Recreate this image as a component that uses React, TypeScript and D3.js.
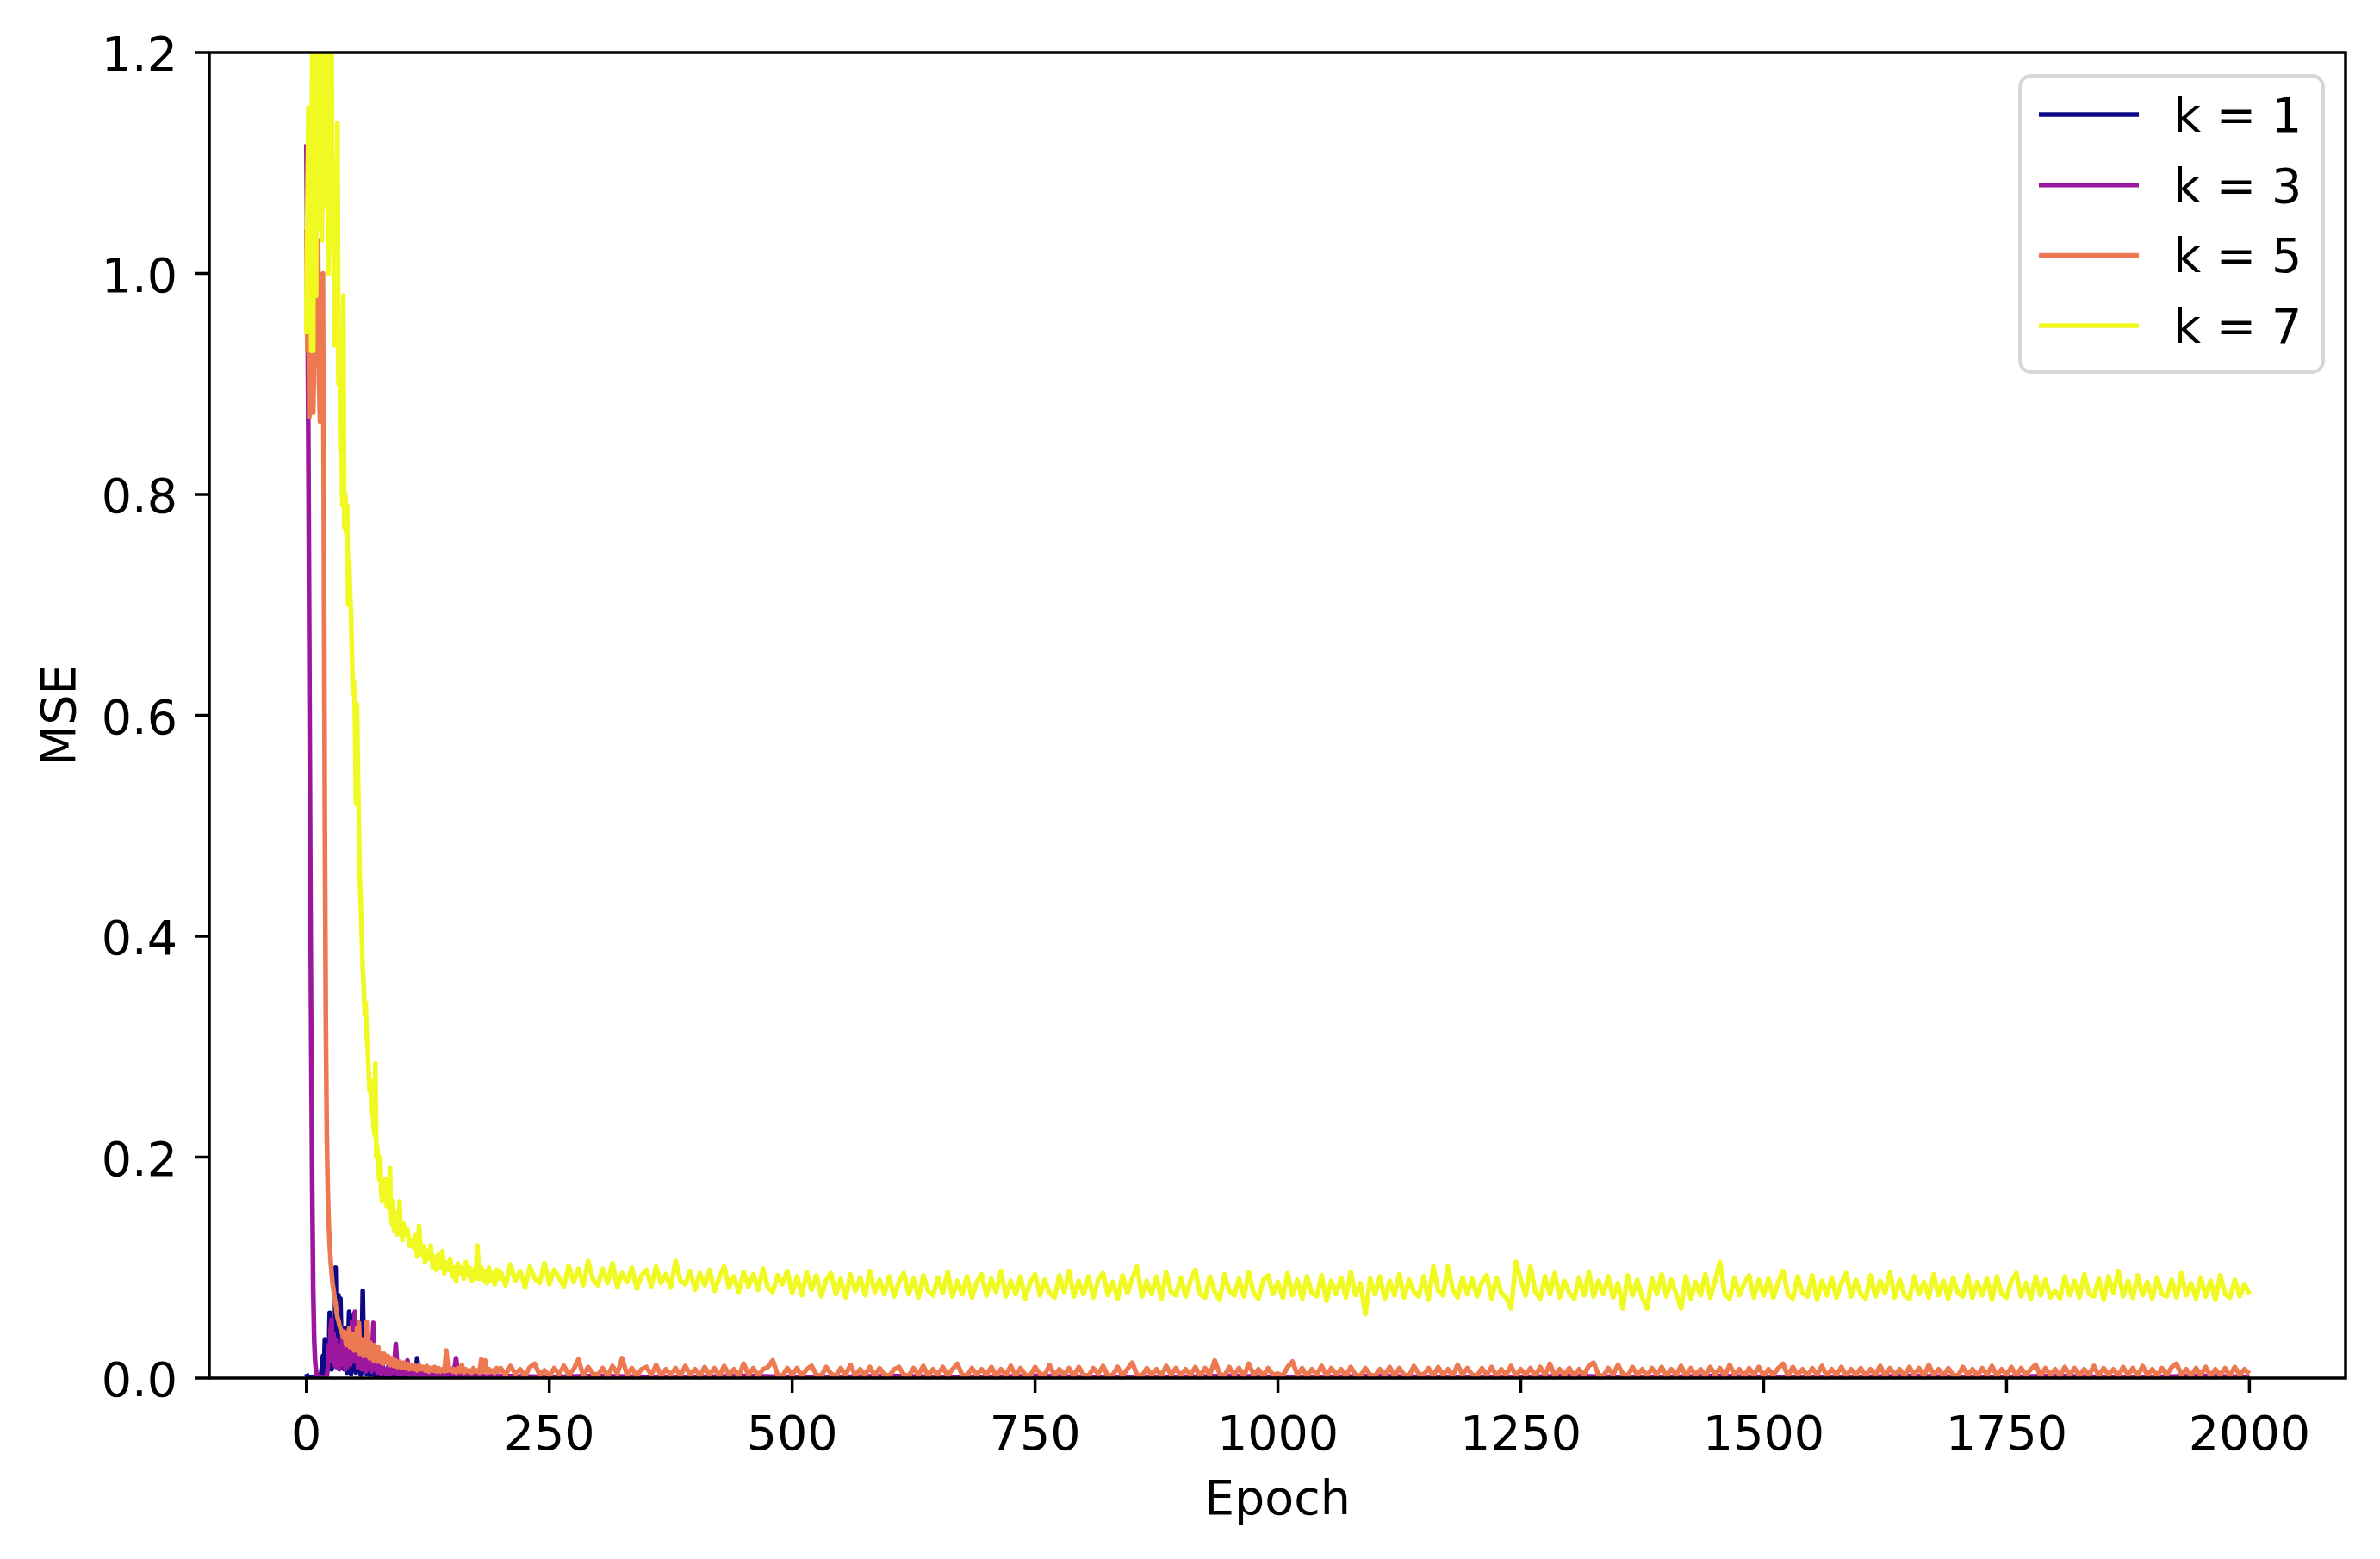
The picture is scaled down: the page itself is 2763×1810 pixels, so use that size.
import React from 'react';
import * as d3 from 'd3';

// every value below is MSE x 1000
// k = 1 : epochs 0-79 every epoch, 80-198 every 2nd, 200-2000 every 100th
const K1_HEAD = [
	4, 2, 1, 1, 1, 1, 1, 1, 1, 1,
	1, 1, 1, 1, 1, 3, 10, 20, 5, 35,
	12, 4, 30, 10, 59, 20, 8, 30, 50, 15,
	100, 40, 20, 75, 25, 72, 30, 10, 30, 8,
	45, 20, 5, 25, 60, 15, 4, 30, 10, 58,
	15, 5, 20, 8, 35, 10, 3, 20, 79, 20,
	6, 15, 4, 30, 8, 3, 12, 4, 20, 5,
	2, 10, 3, 6, 2, 8, 2, 4, 15, 3,
];
const K1_MID = [
	2, 5, 2, 6, 1, 10, 2, 3, 1, 4,
	1, 2, 1, 4, 1, 2, 1, 18, 1, 2,
	1, 1, 2, 1, 1, 3, 1, 1, 1, 2,
	1, 1, 1, 2, 1, 1, 1, 1, 2, 1,
	1, 1, 1, 1, 1, 1, 2, 1, 1, 1,
	1, 1, 1, 1, 1, 1, 1, 1, 1, 1,
];
const K1_TAIL = [1, 0, 1, 0, 0, 1, 0, 0, 0, 1, 0, 0, 0, 0, 1, 0, 0, 0, 0];

// k = 3 : epochs 0-79, 80-198 every 2nd, 200-2000 every 50th
const K3_HEAD = [
	1117, 1000, 850, 660, 460, 300, 170, 80, 35, 15,
	6, 2, 1, 1, 1, 1, 1, 1, 1, 1,
	1, 2, 10, 30, 15, 45, 53, 20, 40, 12,
	35, 10, 30, 20, 8, 28, 12, 40, 15, 30,
	8, 35, 10, 25, 40, 12, 30, 51, 15, 40,
	60, 20, 35, 10, 50, 15, 30, 8, 25, 10,
	20, 6, 18, 8, 25, 10, 20, 6, 30, 50,
	15, 8, 20, 5, 15, 6, 12, 4, 10, 5,
];
const K3_MID = [
	8, 4, 10, 3, 8, 5, 31, 4, 10, 3,
	6, 4, 16, 3, 6, 2, 5, 2, 4, 2,
	5, 2, 3, 2, 4, 2, 3, 2, 4, 1,
	3, 2, 3, 1, 4, 2, 6, 18, 3, 2,
	3, 1, 2, 3, 1, 2, 1, 3, 1, 2,
	1, 2, 1, 2, 1, 2, 1, 1, 2, 1,
];
const K3_TAIL = [
	2, 1, 2, 1, 1, 2, 1, 1, 2, 1,
	1, 2, 1, 1, 1, 2, 1, 1, 2, 1,
	1, 1, 2, 1, 1, 2, 1, 1, 1, 2,
	1, 1, 2, 1, 1, 2, 1,
];

// k = 5 : epochs 0-79, 80-198 every 2nd, 200-2000 every 5th
const K5_HEAD = [
	1040, 930, 980, 870, 950, 1000, 900, 874, 920, 970,
	950, 1000, 1030, 900, 866, 950, 980, 1000, 750, 500,
	320, 220, 170, 140, 120, 105, 95, 85, 80, 72,
	68, 60, 55, 52, 48, 45, 43, 40, 37, 42,
	35, 30, 38, 32, 45, 28, 35, 30, 40, 25,
	35, 28, 45, 25, 50, 22, 30, 24, 35, 20,
	30, 22, 51, 20, 28, 18, 32, 20, 25, 16,
	30, 18, 24, 15, 28, 16, 22, 14, 20, 13,
];
const K5_MID = [
	22, 14, 20, 12, 18, 11, 16, 10, 15, 9,
	14, 9, 13, 8, 12, 8, 11, 7, 12, 8,
	10, 7, 11, 6, 9, 7, 10, 6, 9, 6,
	8, 6, 25, 7, 9, 6, 8, 5, 9, 6,
	12, 5, 8, 6, 7, 5, 9, 6, 7, 5,
	17, 6, 16, 5, 8, 6, 7, 5, 9, 6,
];
const K5_TAIL = [
	9, 3, 11, 4, 8, 2, 10, 13, 3, 7, 2, 9, 4, 11, 3, 8, 17, 2, 10, 4,
	3, 9, 2, 11, 4, 18, 3, 9, 2, 8, 10, 3, 12, 2, 8, 3, 9, 2, 11, 3,
	8, 2, 10, 3, 9, 2, 11, 3, 8, 2, 13, 3, 9, 2, 8, 10, 16, 3, 2, 9,
	3, 9, 2, 8, 11, 3, 2, 10, 4, 2, 9, 3, 12, 2, 8, 3, 10, 2, 9, 3,
	2, 8, 10, 3, 2, 9, 3, 11, 2, 8, 3, 10, 2, 8, 13, 3, 2, 9, 3, 8,
	3, 10, 2, 8, 3, 11, 2, 9, 3, 2, 10, 4, 3, 12, 2, 8, 3, 9, 2, 10,
	3, 2, 9, 4, 11, 2, 3, 10, 2, 8, 14, 3, 2, 9, 3, 8, 2, 11, 3, 9,
	2, 8, 3, 10, 2, 9, 3, 16, 4, 2, 10, 3, 9, 2, 13, 3, 8, 2, 9, 3,
	4, 2, 10, 15, 3, 9, 2, 8, 3, 11, 2, 9, 3, 8, 2, 10, 3, 2, 9, 3,
	2, 8, 3, 10, 2, 9, 3, 2, 11, 4, 3, 9, 2, 10, 3, 8, 2, 12, 3, 9,
	3, 2, 9, 3, 10, 2, 8, 3, 11, 2, 8, 3, 9, 2, 10, 3, 13, 2, 8, 3,
	9, 2, 8, 3, 11, 14, 3, 2, 9, 3, 12, 4, 2, 10, 3, 8, 2, 9, 3, 10,
	2, 8, 3, 11, 2, 9, 3, 8, 2, 10, 3, 9, 2, 12, 3, 8, 2, 9, 3, 10,
	2, 8, 3, 9, 13, 2, 10, 3, 8, 2, 9, 3, 11, 2, 8, 3, 10, 2, 8, 3,
	9, 2, 8, 3, 11, 2, 9, 3, 8, 2, 10, 3, 9, 2, 12, 3, 8, 2, 9, 3,
	2, 10, 3, 8, 2, 9, 3, 11, 2, 8, 3, 10, 2, 9, 3, 8, 12, 2, 9, 3,
	8, 2, 10, 3, 9, 2, 8, 3, 11, 2, 9, 3, 8, 2, 10, 3, 9, 2, 11, 3,
	8, 2, 9, 3, 10, 13, 3, 8, 2, 9, 3, 10, 2, 8, 3, 9, 2, 10, 3, 8,
	4,
];

// k = 7 : epochs 0-99, 100-198 every 2nd, 200-2000 every 5th
const K7_HEAD = [
	945, 1060, 1150, 1000, 1130, 930, 1220, 930, 1250, 1050,
	980, 1300, 1120, 1250, 1040, 1350, 1030, 1280, 1100, 1300,
	1060, 1240, 1080, 1000, 1220, 1050, 1210, 1020, 1100, 935,
	1050, 1000, 1136, 900, 950, 840, 860, 790, 980, 770,
	800, 765, 790, 700, 740, 710, 690, 650, 620, 630,
	600, 520, 610, 550, 500, 450, 430, 400, 370, 355,
	330, 340, 310, 300, 280, 260, 270, 240, 250, 230,
	220, 285, 200, 210, 190, 180, 200, 170, 160, 175,
	165, 180, 160, 155, 170, 160, 190, 150, 140, 160,
	135, 133, 145, 130, 150, 140, 160, 130, 135, 125,
];
const K7_MID = [
	140, 130, 135, 120, 125, 118, 130, 110, 138, 112,
	120, 105, 115, 108, 120, 100, 110, 98, 112, 100,
	115, 95, 105, 98, 108, 92, 100, 88, 104, 95,
	100, 90, 105, 93, 100, 88, 98, 90, 120, 90,
	100, 88, 97, 86, 100, 88, 95, 85, 98, 90,
];
const K7_TAIL = [
	96, 84, 103, 88, 97, 82, 101, 90, 86, 104, 85, 98, 91, 83, 102, 87, 99, 84, 106, 89,
	84, 99, 86, 104, 82, 95, 87, 100, 81, 93, 98, 83, 101, 86, 94, 82, 106, 88, 85, 97,
	80, 95, 84, 98, 79, 91, 101, 82, 92, 78, 96, 83, 94, 80, 99, 82, 78, 93, 85, 97,
	77, 92, 75, 96, 80, 93, 74, 89, 95, 76, 90, 73, 94, 79, 91, 75, 97, 78, 89, 76,
	92, 74, 87, 95, 76, 90, 73, 93, 79, 75, 91, 77, 96, 74, 88, 76, 92, 73, 87, 94,
	75, 90, 78, 97, 74, 88, 76, 92, 72, 87, 94, 75, 89, 77, 73, 93, 78, 97, 74, 88,
	76, 92, 73, 89, 95, 75, 87, 72, 93, 77, 90, 101, 74, 88, 76, 92, 72, 96, 78, 75,
	91, 74, 88, 98, 76, 73, 92, 78, 71, 94, 79, 75, 90, 74, 96, 77, 72, 89, 93, 76,
	87, 73, 95, 75, 89, 72, 92, 77, 74, 93, 70, 88, 76, 91, 73, 96, 75, 86, 58, 90,
	76, 92, 72, 88, 75, 94, 73, 89, 78, 74, 92, 71, 101, 79, 75, 101, 80, 73, 91, 76,
	90, 74, 87, 93, 72, 91, 77, 73, 63, 105, 89, 75, 101, 78, 72, 92, 76, 95, 73, 88,
	77, 72, 91, 75, 96, 74, 88, 76, 92, 73, 86, 63, 93, 75, 89, 73, 63, 90, 76, 94,
	74, 89, 76, 63, 92, 72, 87, 75, 94, 73, 88, 105, 76, 72, 91, 75, 86, 93, 73, 89,
	75, 90, 73, 87, 97, 76, 72, 92, 77, 74, 93, 71, 88, 75, 91, 73, 86, 95, 74, 89,
	76, 72, 93, 74, 88, 77, 96, 73, 89, 75, 72, 92, 76, 87, 73, 94, 75, 88, 72, 91,
	77, 74, 93, 73, 87, 75, 90, 71, 92, 76, 73, 88, 95, 74, 86, 72, 92, 75, 89, 73,
	79, 72, 92, 75, 88, 73, 94, 76, 74, 90, 71, 92, 77, 97, 74, 88, 73, 93, 75, 87,
	72, 91, 76, 74, 89, 73, 95, 75, 86, 72, 91, 74, 88, 71, 93, 76, 73, 89, 74, 85,
	76,
];

const LABELS = ['k = 1', 'k = 3', 'k = 5', 'k = 7'];
const COLORS = ['#0d0887', '#9c179e', '#ed7953', '#f0f921'];
const X_TICKS = [0, 250, 500, 750, 1000, 1250, 1500, 1750, 2000];
const Y_TICKS = [0, 0.2, 0.4, 0.6, 0.8, 1.0, 1.2];

const W = 2763;
const H = 1810;
const LEFT = 243;
const RIGHT = 2723;
const TOP = 61;
const BOTTOM = 1600;
const FONT = "'DejaVu Sans', sans-serif";
const FS = 55.5;

// turns one block of milli values into [epoch, mse] pairs
function block(start: number, step: number, milli: number[]): [number, number][] {
	return milli.map((v, i) => [start + i * step, v / 1000]);
}

const SERIES: [number, number][][] = [
	[...block(0, 1, K1_HEAD), ...block(80, 2, K1_MID), ...block(200, 100, K1_TAIL)],
	[...block(0, 1, K3_HEAD), ...block(80, 2, K3_MID), ...block(200, 50, K3_TAIL)],
	[...block(0, 1, K5_HEAD), ...block(80, 2, K5_MID), ...block(200, 5, K5_TAIL)],
	[...block(0, 1, K7_HEAD), ...block(100, 2, K7_MID), ...block(200, 5, K7_TAIL)],
];

const App = () => {
	const x = d3.scaleLinear().domain([-99.95, 2098.95]).range([LEFT, RIGHT]);
	const y = d3.scaleLinear().domain([0, 1.2]).range([BOTTOM, TOP]);
	const createLine = d3
		.line<[number, number]>()
		.x(d => x(d[0]))
		.y(d => y(d[1]));

	const legendX = 2345;
	const legendY = 88;
	const rowH = 81.7;

	return (
		<>
			<style>{'body{margin:0}'}</style>
			<svg width={W} height={H} style={{ display: 'block', background: 'white' }} fontFamily={FONT}>
				<defs>
					<clipPath id='plotArea'>
						<rect x={LEFT} y={TOP} width={RIGHT - LEFT} height={BOTTOM - TOP} />
					</clipPath>
				</defs>

				<g clipPath='url(#plotArea)'>
					{SERIES.map((pts, i) => (
						<path
							key={LABELS[i]}
							d={createLine(pts) || ''}
							fill='none'
							stroke={COLORS[i]}
							strokeWidth={5.5}
							strokeLinejoin='round'
						/>
					))}
				</g>

				<rect x={LEFT} y={TOP} width={RIGHT - LEFT} height={BOTTOM - TOP} fill='none' stroke='black' strokeWidth={3.5} />

				{X_TICKS.map(t => (
					<g key={'x' + t}>
						<line x1={x(t)} x2={x(t)} y1={BOTTOM} y2={BOTTOM + 17} stroke='black' strokeWidth={3.5} />
						<text x={x(t)} y={1683} textAnchor='middle' fontSize={FS} fill='black'>{t}</text>
					</g>
				))}
				{Y_TICKS.map(t => (
					<g key={'y' + t}>
						<line x1={LEFT - 17} x2={LEFT} y1={y(t)} y2={y(t)} stroke='black' strokeWidth={3.5} />
						<text x={206} y={y(t) + 21} textAnchor='end' fontSize={FS} fill='black'>{t.toFixed(1)}</text>
					</g>
				))}

				<text x={(LEFT + RIGHT) / 2} y={1758} textAnchor='middle' fontSize={FS} fill='black'>Epoch</text>
				<text transform={`translate(87 ${(TOP + BOTTOM) / 2}) rotate(-90)`} textAnchor='middle' fontSize={FS} fill='black'>MSE</text>

				<g>
					<rect x={legendX} y={legendY} width={352} height={344} rx={13} fill='white' fillOpacity={0.8} stroke='#d6d6d6' strokeWidth={4} />
					{LABELS.map((label, i) => {
						const ly = 133 + i * rowH;
						return (
							<g key={label}>
								<line x1={2367} x2={2483} y1={ly} y2={ly} stroke={COLORS[i]} strokeWidth={5.5} />
								<text x={2523} y={ly + 20} fontSize={FS} fill='black'>{label}</text>
							</g>
						);
					})}
				</g>
			</svg>
		</>
	);
};

export default App;
